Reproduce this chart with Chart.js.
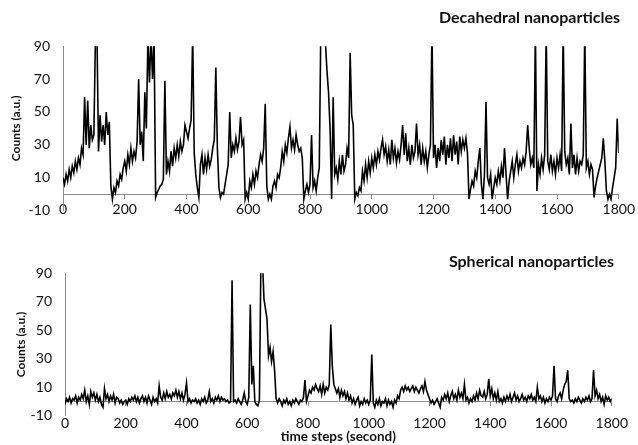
<!DOCTYPE html>
<html>
<head>
<meta charset="utf-8">
<script src="https://cdn.jsdelivr.net/npm/chart.js@4.4.1/dist/chart.umd.min.js"></script>
<style>
  html, body { margin: 0; padding: 0; background: #fff; }
  #wrap { position: relative; width: 638px; height: 445px; }
  canvas { position: absolute; left: 0; }
</style>
</head>
<body>
<div id="wrap">
  <canvas id="canvasDeca" width="638" height="222" style="top:0px"></canvas>
  <canvas id="canvasSphere" width="638" height="223" style="top:222px"></canvas>
</div>
<script>
// time axis: one reading every 5 s
var times = [];
for (var t = 0; t <= 1800; t += 5) times.push(t);

var xTicks = [0, 200, 400, 600, 800, 1000, 1200, 1400, 1600, 1800];
var yTicks = [-10, 10, 30, 50, 70, 90];

// counts (values above 90 are cut off by the axis)
var decahedral = [
  10, 6, 12, 8, 15, 10, 17, 13, 20, 15, 22, 18, 28, 24, 59, 30, 57, 28, 42, 33,
  36, 95, 98, 26, 48, 32, 42, 30, 50, 36, 44, 5, -3, 4, 1, 8, 5, 12, 9, 16,
  20, 14, 24, 18, 28, 20, 26, 22, 32, 70, 30, 38, 20, 62, 40, 95, 68, 96, 70, 95,
  -2, 1, 3, 5, 6, 9, 69, 12, 20, 14, 26, 17, 28, 22, 30, 23, 32, 26, 30, 42,
  38, 34, 40, 45, 98, 25, 12, 4, -2, 18, 24, 12, 22, 15, 24, 17, 21, 28, 33, 77,
  28, 4, -2, 1, 0, 6, 12, 18, 50, 22, 30, 26, 34, 27, 32, 47, 30, 33, -3, 1,
  -3, 8, 4, 12, 6, 14, 10, 18, 24, 20, 28, 55, 5, -3, 0, -3, 5, 8, 4, 12,
  10, 16, 26, 20, 30, 25, 34, 41, 28, 33, 27, 36, 30, 26, 28, 22, -3, 2, 6, 1,
  6, 36, 4, 8, 2, 10, 16, 100, 115, 100, 92, 75, 62, 40, -3, 59, 12, 16, 9, 20,
  12, 24, 14, 18, 28, 22, 86, 48, 42, -3, 1, -1, 4, 2, 14, 8, 18, 10, 20, 13,
  22, 16, 24, 18, 26, 21, 28, 33, 24, 29, 20, 27, 18, 33, 22, 28, 19, 26, 21, 30,
  42, 24, 37, 20, 28, 18, 30, 22, 26, 43, 24, 30, 18, 28, 20, 26, 16, 24, 30, 100,
  22, 30, 16, 28, 20, 33, 24, 35, 18, 30, 22, 34, 20, 36, 24, 32, 18, 35, 26, 33,
  28, 34, 25, -3, 3, 8, 5, 14, 10, 20, 28, 6, -3, 12, 56, 10, 6, 12, -3, 4,
  10, 6, 14, 8, 17, 10, 28, 12, -3, 8, 14, 20, 10, 18, 24, 14, 20, 16, 22, 18,
  26, 42, 28, 18, 22, 16, 100, 2, 18, 12, 22, 15, 24, 100, 20, 15, 24, 14, 20, 12,
  22, 16, 24, 14, 100, 26, 18, 22, 12, 43, 16, 24, 12, 22, 14, 20, 18, 24, 100, 16,
  20, 12, 18, 15, -2, 5, 10, 14, 18, 22, 34, 20, 2, -3, 0, -3, 4, 10, 16, 46, 25
];

var spherical = [
  -2, 2, 0, 3, -1, 2, 1, 4, -1, 3, 1, 5, 2, 8, 0, 4, -2, 7, 3, 6,
  1, 5, 0, 3, -2, -4, 9, 2, 5, 0, 4, 1, 5, -1, 3, 2, -1, 1, -2, 0,
  1, -2, 2, 0, 3, 1, 4, 0, 3, -1, 2, 4, 0, 3, -1, 4, 1, -2, 3, 0,
  2, -1, 11, 3, 1, 6, 2, 7, 3, 5, 2, 6, 4, 8, 3, 7, 2, 6, 1, 5,
  13, 0, 2, -1, 1, 0, 2, -1, 1, -2, 2, 0, 3, -1, 1, 7, 0, 2, -1, 3,
  1, 4, 0, 3, 1, 2, 0, 1, -1, 0, 85, 0, 1, -1, 2, 0, -2, 1, 6, 0,
  -2, 3, 68, 12, 25, 0, -2, -3, 1, 100, 100, 72, 65, 58, 32, 38, 28, 35, 22, 2,
  -1, 2, 0, -3, 1, -1, 2, -2, 0, -3, 1, -1, 2, 0, -2, 1, 0, 3, 15, 0,
  4, 8, 6, 10, 8, 12, 9, 7, 11, 5, 12, 6, 10, 8, 12, 54, 25, 12, 9, 6,
  9, 3, 8, 4, 7, 2, 6, 1, 4, -1, 2, -2, 1, 3, -3, 0, -2, 2, -1, 1,
  -2, 1, 33, -1, -4, 1, -2, 2, -3, 0, -1, 2, -3, 1, -2, 0, -4, 1, -1, 4,
  2, 8, 10, 7, 11, 8, 10, 7, 9, 11, 7, 10, 8, 6, 9, 11, 7, 14, 8, 5,
  2, -1, 1, -2, 0, 2, -1, -4, 3, 1, 5, 2, 6, 0, 4, 7, 2, 5, 1, 8,
  3, 6, 2, 12, 1, 3, -1, 2, 0, 4, 1, 6, 2, 8, 4, 3, 7, 2, 5, 16,
  4, 9, 2, 6, 1, 7, 0, 2, -1, 3, 0, 4, 1, 5, 0, 3, 6, 1, 4, 0,
  2, 5, 1, 3, 0, 4, 2, 5, 1, 3, 0, 10, 2, 4, 0, 3, -1, 2, 0, 3,
  1, 4, 25, 2, 0, 4, 6, 2, 8, 12, 14, 22, 2, 0, 1, -1, 2, 0, 3, 1,
  -1, 2, 0, 3, 1, 4, 0, 2, 22, 4, 8, 2, 5, 0, 3, -2, 4, 1, 3, 0, 2
];

var axisGrey = '#8c8c8c';
var fontFam = 'Lato, "Open Sans", sans-serif';

function plainNumber(v) { return String(v); }

function makeChart(id, values, opt) {
  var scales = {
    x: {
      type: 'linear',
      min: 0,
      max: 1800,
      position: { y: 0 },
      afterBuildTicks: function(scale) {
        scale.ticks = xTicks.map(function(v) { return { value: v }; });
      },
      grid: { display: true, drawOnChartArea: false, drawTicks: true, tickLength: 4, color: axisGrey },
      border: { display: true, color: axisGrey, width: 1 },
      ticks: { autoSkip: false, maxRotation: 0, padding: opt.xPad, color: '#111',
               font: { family: fontFam, size: 14 }, callback: plainNumber }
    },
    y: {
      min: -10,
      max: 90,
      afterBuildTicks: function(scale) {
        scale.ticks = yTicks.map(function(v) { return { value: v }; });
      },
      afterFit: function(scale) { scale.width = opt.yWidth; },
      // no visible tick marks on y, the invisible ones just push the labels away
      grid: { display: true, drawOnChartArea: false, drawTicks: true, tickLength: 10, color: 'rgba(0,0,0,0)' },
      border: { display: true, color: axisGrey, width: 1 },
      ticks: { padding: 3, color: '#111', font: { family: fontFam, size: 14 }, callback: plainNumber },
      title: {
        display: true,
        text: 'Counts (a.u.)',
        color: '#111',
        font: { family: fontFam, size: 12, weight: 'bold' },
        padding: { top: opt.yTitlePad, bottom: 0 }
      }
    }
  };
  if (opt.xTitle) {
    scales.x2 = {
      type: 'linear',
      min: 0,
      max: 1800,
      position: 'bottom',
      grid: { display: false },
      border: { display: false },
      ticks: { display: false },
      title: {
        display: true,
        text: opt.xTitle,
        color: '#111',
        font: { family: fontFam, size: 13.5, weight: 'bold' },
        padding: { top: 5, bottom: 0 }
      }
    };
  }

  return new Chart(document.getElementById(id), {
    type: 'line',
    data: {
      labels: times,
      datasets: [{
        data: values,
        borderColor: '#000',
        borderWidth: 1.6,
        pointRadius: 0,
        tension: 0,
        fill: false,
        clip: 0
      }]
    },
    options: {
      responsive: false,
      animation: false,
      devicePixelRatio: 1,
      layout: { padding: opt.padding },
      plugins: {
        legend: { display: false },
        tooltip: { enabled: false },
        title: {
          display: true,
          text: opt.title,
          align: 'end',
          color: '#111',
          font: { family: fontFam, size: 16, weight: 'bold' },
          padding: opt.titlePad
        }
      },
      scales: scales
    }
  });
}

makeChart('canvasDeca', decahedral, {
  title: 'Decahedral nanoparticles',
  titlePad: { top: 8, bottom: 19 },
  padding: { left: 0, right: 18, top: 0, bottom: 0 },
  yWidth: 63,
  yTitlePad: 9,
  xPad: 3
});

makeChart('canvasSphere', spherical, {
  title: 'Spherical nanoparticles',
  titlePad: { top: 30, bottom: 2 },
  padding: { left: 0, right: 24, top: 0, bottom: 0 },
  yWidth: 65,
  yTitlePad: 14,
  xPad: 10,
  xTitle: 'time steps (second)'
});
</script>
</body>
</html>
